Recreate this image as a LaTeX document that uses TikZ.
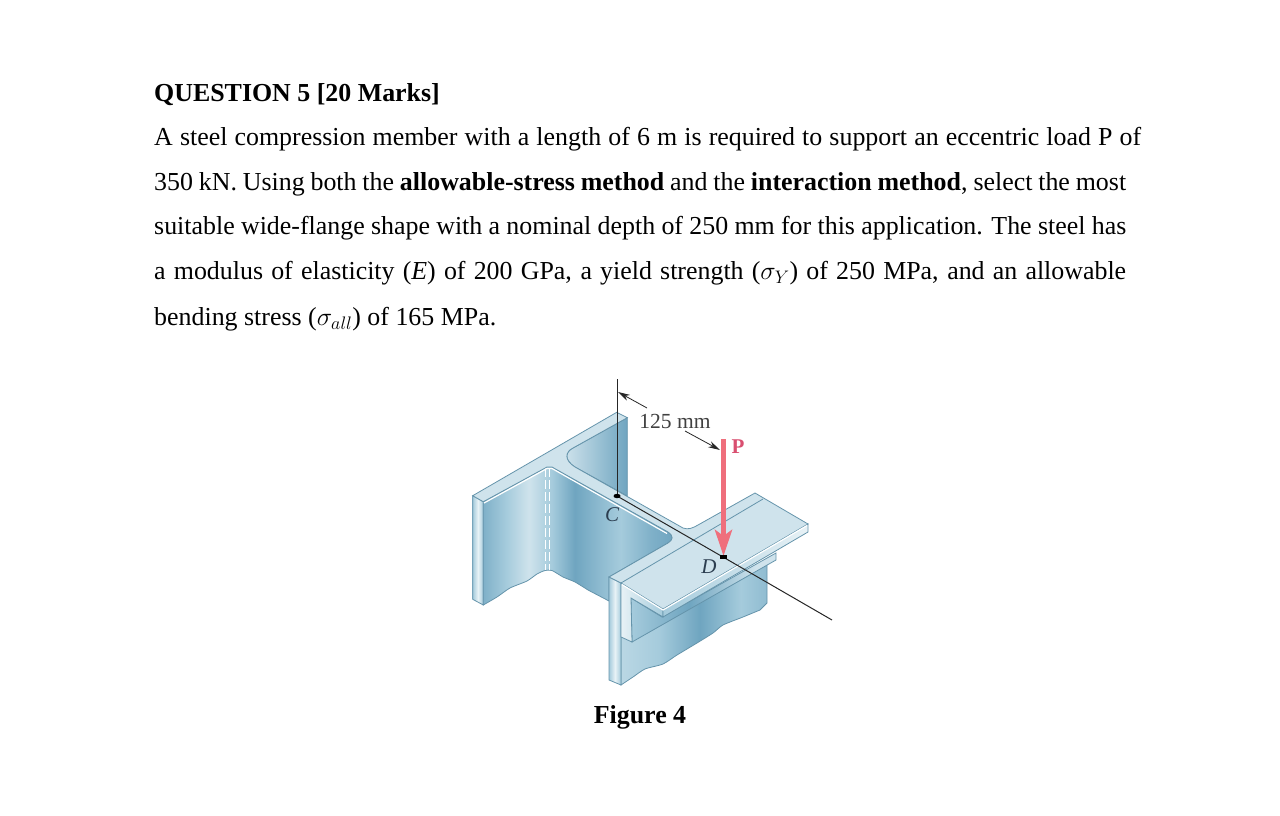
\documentclass[tikz,border=0pt]{standalone}
\usepackage{fix-cm}
\usepackage{fontspec}
\setmainfont{Liberation Serif}
\usetikzlibrary{arrows.meta}
\definecolor{edgeblue}{HTML}{6594AB}
\definecolor{topblue}{HTML}{CFE3EC}
\definecolor{paleblue}{HTML}{E8F2F6}
\definecolor{midblue}{HTML}{A5CBDC}
\definecolor{deepblue}{HTML}{6FA5C0}
\definecolor{loadred}{HTML}{EF6F7C}
\definecolor{loadtext}{HTML}{D94F70}
\definecolor{inkblue}{HTML}{2C3E50}
\pgfdeclarehorizontalshading{webshade}{100bp}{color(0bp)=(deepblue);color(25bp)=(deepblue!70!midblue);color(31bp)=(midblue);color(37bp)=(topblue);color(41bp)=(midblue!70!topblue);color(43bp)=(midblue);color(49bp)=(deepblue);color(56bp)=(midblue!60!deepblue);color(61bp)=(midblue);color(69bp)=(midblue!30!deepblue);color(75bp)=(deepblue);color(100bp)=(deepblue)}
\pgfdeclarehorizontalshading{stripshade}{100bp}{color(0bp)=(midblue);color(25bp)=(midblue);color(50bp)=(paleblue);color(75bp)=(midblue);color(100bp)=(midblue)}
\pgfdeclarehorizontalshading{lowershade}{100bp}{color(0bp)=(topblue);color(25bp)=(midblue!50!topblue);color(38bp)=(midblue);color(52bp)=(deepblue);color(66bp)=(midblue);color(75bp)=(midblue!60!deepblue);color(100bp)=(deepblue)}
\pgfdeclarehorizontalshading{gussetshade}{100bp}{color(0bp)=(midblue);color(25bp)=(midblue);color(45bp)=(deepblue);color(68bp)=(topblue);color(75bp)=(topblue);color(100bp)=(topblue)}
\tikzset{
	para/.style={anchor=west,inner sep=0pt,font=\fontsize{25.9}{30}\selectfont},
	face/.style={draw=edgeblue,line width=0.8pt},
	dim/.style={-{Stealth[length=12pt,width=6.5pt]},line width=0.8pt,black!85},
	callout/.style={inner sep=0pt,font=\fontsize{21.5}{24}\selectfont}
}
\begin{document}
\begin{tikzpicture}[x=1pt,y=-1pt]
	\useasboundingbox (0,0) rectangle (1280,816);
	% question text
	\node[para] (title) at (154,95) {\textbf{QUESTION 5 [20 Marks]}};
	\node[para] (lineA) at (154,139) {\makebox[987pt][s]{A steel compression member with a length of 6 m is required to support an eccentric load P of}};
	\node[para] (lineB) at (154,184) {\makebox[972pt][s]{350 kN. Using both the \textbf{allowable-stress method} and the \textbf{interaction method}, select the most}};
	\node[para] (lineC) at (154,228) {\makebox[972pt][s]{suitable wide-flange shape with a nominal depth of 250 mm for this application. The steel has}};
	\node[para] (lineD) at (154,273) {\makebox[972pt][s]{a modulus of elasticity (\textit{E}) of 200 GPa, a yield strength ($\sigma_Y$) of 250 MPa, and an allowable}};
	\node[para] (lineE) at (154,319) {bending stress ($\sigma_{all}$) of 165 MPa.};
	% far flange, inner face
	\path[face,left color=topblue,right color=deepblue] (627.3,417.7) -- (573,448) .. controls (565,452) and (564,460) .. (575,467) -- (627.3,496) -- cycle;
	% near flange of the left end and web
	\path[face,shading=stripshade] (472.7,495.7) -- (483.3,501.7) -- (483.3,605) -- (472.7,599.3) -- cycle;
	\path[face,shading=webshade] (483.3,501.7) -- (547,467) -- (552,467) -- (668,532) .. controls (674,536) and (673,540) .. (668,543) -- (609,577) -- (609,601) -- plot[smooth,tension=0.4] coordinates {(588,590) (575,582) (563,577) (552,570.5) (545,570.5) (537,574) (527,581) (510,588) (497,597) (483.3,605)} -- cycle;
	\foreach \xd in {545,549.5}
		\draw[white,line width=0.7pt,dash pattern=on 9pt off 3pt] (\xd,468) -- (\xd,570);
	% right flange below the bracket
	\path[face,shading=lowershade] (621,637) -- (767,565) -- (767,603) -- plot[smooth,tension=0.4] coordinates {(760,610) (743,617) (723,625) (713,633) (697,643) (677,655) (663,664) (645,669) (633,677) (621,685)} -- cycle;
	\path[face,shading=stripshade] (609,577) -- (621,583) -- (621,685) -- (609,680) -- cycle;
	% bracket
	\path[face,shading=gussetshade] (631,598) -- (662,617) -- (776,553) -- (776,560) -- (632,642) -- cycle;
	\path[face,left color=paleblue,right color=midblue] (621,583) -- (663,609) -- (663,617) -- (631,598) -- (632,642) -- (621,637) -- cycle;
	\path[face,left color=midblue,right color=paleblue] (663,609) -- (808,524) -- (808,532) -- (663,617) -- cycle;
	% top of the section
	\path[face,left color=topblue,middle color=paleblue,right color=topblue] (472.7,495.7) -- (616.7,412.3) -- (627.3,417.7) -- (573,448) .. controls (565,452) and (564,460) .. (575,467) -- (683,528) .. controls (688,530) and (693,528) .. (698,525) -- (755,493) -- (808,524) -- (663,609) -- (621,583) -- (609,577) -- (668,543) .. controls (673,540) and (674,536) .. (668,532) -- (552,467) -- (547,467) -- (483.3,501.7) -- cycle;
	\draw[edgeblue,line width=0.8pt] (621,583) -- (763,499);
	\draw[white,line width=1.2pt] (484,503) -- (547,468.5) -- (552,468.5) -- (667,533.5) (622,584.5) -- (663,610) -- (807,525.5);
	% dimension and load
	\coordinate (C) at (617,496);
	\coordinate (D) at (723,557);
	\coordinate (far) at (832,620);
	\coordinate (top) at (617,379);
	\coordinate (tailA) at (647,408);
	\coordinate (tipA) at (618,392);
	\coordinate (tailB) at (685,431);
	\coordinate (tipB) at (720,450);
	\draw[black!85,line width=0.9pt] (top) -- (C);
	\draw[black!85,line width=1pt] (C) -- (D) -- (far);
	\draw[dim] (tailA) -- (tipA);
	\draw[dim] (tailB) -- (tipB);
	\node[callout,text=black!75] (dimlabel) at (675,421) {125 mm};
	\coordinate (loadtop) at (723.5,439);
	\coordinate (loadtip) at (723.5,556);
	\draw[loadred,line width=5.5pt,-{Stealth[length=26pt,width=17pt,inset=6pt]}] (loadtop) -- (loadtip);
	\fill[black] (C) ellipse[x radius=3.5pt,y radius=2.2pt];
	\fill[black] (720,555) rectangle (727,559);
	\node[callout,text=loadtext,font=\fontsize{21}{24}\selectfont\bfseries] (Plabel) at (738,447) {P};
	\node[callout,text=inkblue,font=\fontsize{21}{24}\selectfont\itshape] (Clabel) at (612,515) {C};
	\node[callout,text=inkblue,font=\fontsize{21}{24}\selectfont\itshape] (Dlabel) at (709,567) {D};
	\node[para,anchor=center] (caption) at (640,717) {\textbf{Figure 4}};
\end{tikzpicture}
\end{document}
